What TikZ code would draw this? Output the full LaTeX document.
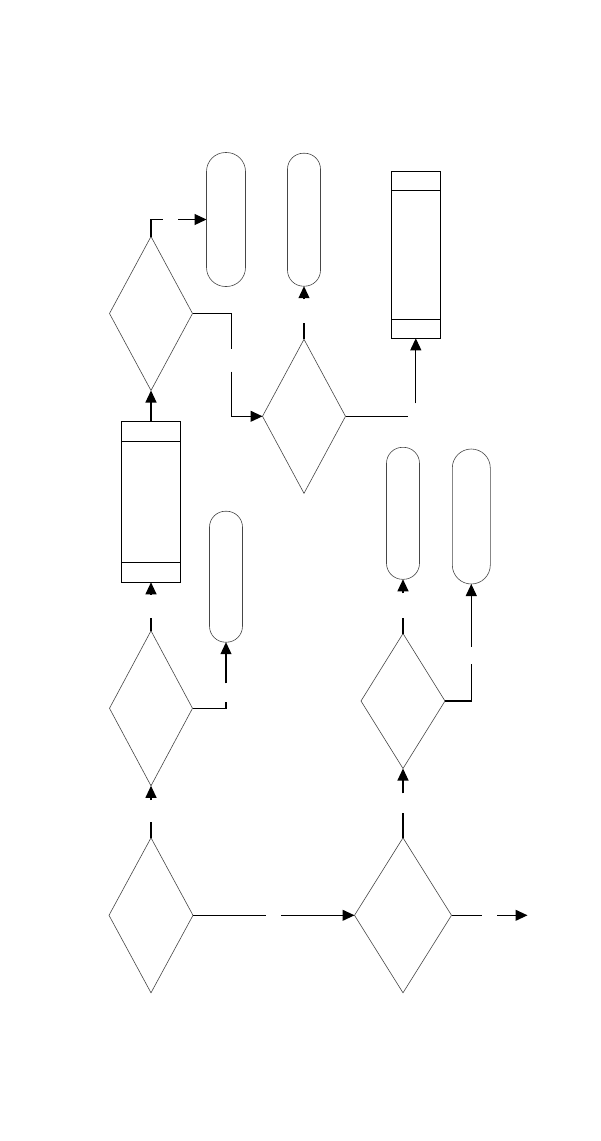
\documentclass[tikz,border=0pt]{standalone}
\usepackage{tikz}
\usetikzlibrary{arrows.meta,shapes.geometric}
\definecolor{ShapeGrey}{RGB}{70,70,70}
\tikzset{
  decision/.style={diamond,draw=ShapeGrey,line width=0.6pt,aspect=1,
    inner sep=0pt,outer sep=0pt},
  terminal/.style={draw=ShapeGrey,line width=0.6pt,rounded corners=16pt,
    minimum width=33pt,inner sep=0pt,outer sep=0pt},
  process/.style={draw,line width=0.9pt,inner sep=0pt,outer sep=0pt},
  flow/.style={line width=1.1pt},
  arr/.style={flow,-{Triangle[length=12pt,width=11pt]}}
}
\newcommand{\bands}[2]{%
  \draw[line width=0.9pt] ([yshift=-#2pt]#1.north west)--([yshift=-#2pt]#1.north east);
  \draw[line width=0.9pt] ([yshift=#2pt]#1.south west)--([yshift=#2pt]#1.south east);}

\begin{document}
\begin{tikzpicture}[x=1pt,y=-1pt]
  \useasboundingbox (0,0) rectangle (601,1141);
  % decisions
  \node[decision,minimum width=83pt,minimum height=154pt] (d1) at (151,313.5) {};
  \node[decision,minimum width=83pt,minimum height=154pt] (d2) at (304,416.3) {};
  \node[decision,minimum width=83pt,minimum height=155pt] (d3) at (151,708.3) {};
  \node[decision,minimum width=84pt,minimum height=135pt] (d4) at (403,701) {};
  \node[decision,minimum width=84pt,minimum height=155pt] (d6) at (151,915.3) {};
  \node[decision,minimum width=97pt,minimum height=155pt] (d5) at (403,915.3) {};
  % terminals
  \node[terminal,minimum width=39pt,rounded corners=19pt,minimum height=134pt] (t1) at (226,219.5) {};
  \node[terminal,minimum height=133pt] (t2) at (304,219.7) {};
  \node[terminal,minimum height=131pt] (t3) at (226,576.7) {};
  \node[terminal,minimum height=132pt] (t4) at (403,513.3) {};
  \node[terminal,minimum width=38pt,rounded corners=19pt,minimum height=135pt] (t5) at (471.3,516.5) {};
  % processes
  \node[process,minimum width=49pt,minimum height=167pt] (r1) at (415.8,254.8) {};
  \node[process,minimum width=59pt,minimum height=161pt] (r2) at (151,501.8) {};
  \bands{r1}{19}
  \bands{r2}{20}
  % loose ends of the broken connectors
  \coordinate (c1a) at (163,219.5);   \coordinate (c1b) at (178,219.5);
  \coordinate (c2a) at (231.3,349.3); \coordinate (c2b) at (231.3,371.7);
  \coordinate (c3a) at (304,322.7);   \coordinate (c3b) at (304,299.3);
  \coordinate (c4a) at (407.7,416.3); \coordinate (c4b) at (415.8,403.3);
  \coordinate (c6a) at (151,618.3);   \coordinate (c6b) at (151,594);
  \coordinate (c7a) at (226,701.7);   \coordinate (c7b) at (226,683.3);
  \coordinate (c8a) at (151,821.7);   \coordinate (c8b) at (151,800);
  \coordinate (c9a) at (265.7,915.3); \coordinate (c9b) at (281,915.3);
  \coordinate (c10a) at (403,618.3);  \coordinate (c10b) at (403,593.3);
  \coordinate (c11a) at (471.3,664);  \coordinate (c11b) at (471.3,646.7);
  \coordinate (c12a) at (403,812.7);  \coordinate (c12b) at (403,793.3);
  \coordinate (c13a) at (481.7,915.3); \coordinate (c13b) at (497.3,915.3);
  \coordinate (out) at (527.5,915.3);
  % connectors
  \draw[flow] (d1.north) |- (c1a);   \draw[arr] (c1b) -- (t1.west);
  \draw[flow] (d1.east) -| (c2a);    \draw[arr] (c2b) |- (d2.west);
  \draw[flow] (d2.north) -- (c3a);   \draw[arr] (c3b) -- (t2.south);
  \draw[flow] (d2.east) -- (c4a);    \draw[arr] (c4b) -- (r1.south);
  \draw[arr] (r2.north) -- (d1.south);
  \draw[flow] (d3.north) -- (c6a);   \draw[arr] (c6b) -- (r2.south);
  \draw[flow] (d3.east) -| (c7a);    \draw[arr] (c7b) -- (t3.south);
  \draw[flow] (d6.north) -- (c8a);   \draw[arr] (c8b) -- (d3.south);
  \draw[flow] (d6.east) -- (c9a);    \draw[arr] (c9b) -- (d5.west);
  \draw[flow] (d4.north) -- (c10a);  \draw[arr] (c10b) -- (t4.south);
  \draw[flow] (d4.east) -| (c11a);   \draw[arr] (c11b) -- (t5.south);
  \draw[flow] (d5.north) -- (c12a);  \draw[arr] (c12b) -- (d4.south);
  \draw[flow] (d5.east) -- (c13a);   \draw[arr] (c13b) -- (out);
\end{tikzpicture}
\end{document}
